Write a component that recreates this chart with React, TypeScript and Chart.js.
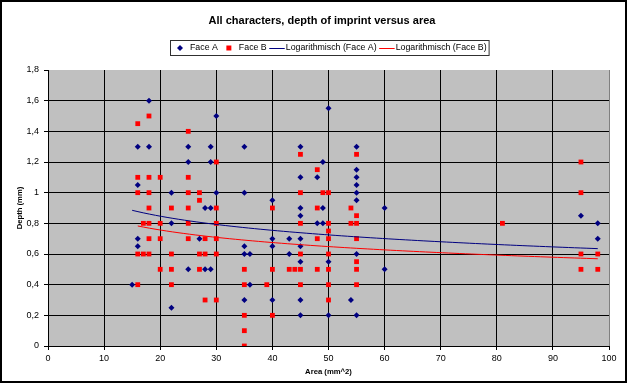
import { useEffect, useRef } from "react";
import { Chart, registerables } from "chart.js";

Chart.register(...registerables);

const TITLE = "All characters, depth of imprint versus area";
const X_TITLE = "Area (mm^2)";
const Y_TITLE = "Depth (mm)";
const LABEL_A = "Face A";
const LABEL_B = "Face B";
const LABEL_TA = "Logarithmisch (Face A)";
const LABEL_TB = "Logarithmisch (Face B)";

const X_MIN = 0;
const X_MAX = 100;
const X_STEP = 10;
const Y_MIN = 0;
const Y_MAX = 1.8;
const Y_STEP = 0.2;

// Face A (blue diamonds)
const faceAArea = [
  18, 16, 18, 25, 25, 16, 22, 22, 16, 27, 16, 25, 15, 22,
  50, 30, 29, 35, 45, 29, 49, 45, 48, 30, 35, 40, 28, 29, 45, 49,
  45, 48, 49, 40, 43, 45, 35, 40, 45, 35, 36, 43, 45, 50, 28, 29, 36, 35, 40, 45, 45, 50,
  55, 55, 55, 55, 55, 55, 60, 55, 60, 54, 55,
  95, 98, 98,
];
const faceADepth = [
  1.6, 1.3, 1.3, 1.3, 1.2, 1.05, 1.0, 0.8, 0.7, 0.7, 0.65, 0.5, 0.4, 0.25,
  1.55, 1.5, 1.3, 1.3, 1.3, 1.2, 1.2, 1.1, 1.1, 1.0, 1.0, 0.95, 0.9, 0.9, 0.9, 0.9,
  0.85, 0.8, 0.8, 0.7, 0.7, 0.7, 0.65, 0.65, 0.65, 0.6, 0.6, 0.6, 0.55, 0.55, 0.5, 0.5, 0.4, 0.3, 0.3, 0.3, 0.2, 0.2,
  1.3, 1.15, 1.1, 1.05, 1.0, 0.95, 0.9, 0.6, 0.5, 0.3, 0.2,
  0.85, 0.8, 0.7,
];

// Face B (red squares)
const faceBArea = [
  18, 16, 25, 16, 18, 20, 25, 16, 18, 25, 27, 27, 18, 22, 25,
  17, 18, 20, 25, 18, 20, 25, 16, 17, 18, 22, 27, 20, 22, 27, 16, 22,
  45, 30, 48, 45, 49, 50, 30, 40, 48,
  30, 45, 50, 50, 28, 30, 48, 50, 28, 30, 45, 50, 35, 40, 43, 44, 45, 48, 50, 35, 39, 45, 50, 28, 30, 50, 35, 40, 35, 35,
  55, 54, 55, 54, 55, 55, 55, 55, 55,
  81, 95, 95, 95, 98, 95, 98,
];
const faceBDepth = [
  1.5, 1.45, 1.4, 1.1, 1.1, 1.1, 1.1, 1.0, 1.0, 1.0, 1.0, 0.95, 0.9, 0.9, 0.9,
  0.8, 0.8, 0.8, 0.8, 0.7, 0.7, 0.7, 0.6, 0.6, 0.6, 0.6, 0.6, 0.5, 0.5, 0.5, 0.4, 0.4,
  1.25, 1.2, 1.15, 1.0, 1.0, 1.0, 0.9, 0.9, 0.9,
  0.8, 0.8, 0.8, 0.75, 0.7, 0.7, 0.7, 0.7, 0.6, 0.6, 0.6, 0.6, 0.5, 0.5, 0.5, 0.5, 0.5, 0.5, 0.5, 0.4, 0.4, 0.4, 0.4, 0.3, 0.3, 0.3, 0.2, 0.2, 0.1, 0,
  1.25, 0.9, 0.85, 0.8, 0.8, 0.7, 0.55, 0.5, 0.4,
  0.8, 1.2, 1.0, 0.6, 0.6, 0.5, 0.5,
];

// Logarithmic trendline coefficients (y = a·ln(x) + b)
const trendACoef = [-0.1332, 1.2457];
const trendBCoef = [-0.118, 1.11];

const COLOR_A = "#000080";
const COLOR_B = "#FF0000";
const FONT = '"Liberation Sans", Arial, sans-serif';

function toPoints(xs: number[], ys: number[]) {
  return xs.map((x, i) => ({ x, y: ys[i] }));
}

// Trendline curve spanning the series' x-range
function logTrend(xs: number[], coef: number[]) {
  const [a, b] = coef;
  const lo = Math.min(...xs);
  const hi = Math.max(...xs);
  const pts: { x: number; y: number }[] = [];
  const steps = 80;
  for (let i = 0; i <= steps; i++) {
    const x = lo + ((hi - lo) * i) / steps;
    pts.push({ x, y: a * Math.log(x) + b });
  }
  return pts;
}

function fmtTick(v: number) {
  return String(Number(v.toFixed(1))).replace(".", ",");
}

const decorPlugin = {
  id: "excelDecor",
  beforeDraw(chart: any) {
    const { ctx, chartArea } = chart;
    ctx.save();
    ctx.fillStyle = "#FFFFFF";
    ctx.fillRect(0, 0, chart.width, chart.height);
    ctx.fillStyle = "#C0C0C0";
    ctx.fillRect(chartArea.left, chartArea.top, chartArea.right - chartArea.left, chartArea.bottom - chartArea.top);
    ctx.restore();
  },
  afterDraw(chart: any) {
    const { ctx } = chart;
    ctx.save();
    // title
    ctx.fillStyle = "#000";
    ctx.font = `bold 11px ${FONT}`;
    ctx.textAlign = "center";
    ctx.textBaseline = "middle";
    ctx.fillText(TITLE, 322, 21);

    // legend
    ctx.font = `8.8px ${FONT}`;
    ctx.textAlign = "left";
    const y = 48;
    const boxLeft = 170.5;
    let cursor = 169;
    const items = chart.data.datasets.map((d: any) => ({
      label: d.label,
      color: d.borderColor,
      kind: d.showLine ? "line" : d.pointStyle,
    }));
    items.forEach((it: any) => {
      let textX: number;
      if (it.kind === "line") {
        ctx.strokeStyle = it.color;
        ctx.lineWidth = 1;
        ctx.beginPath();
        ctx.moveTo(cursor + 2.5, y + 0.5);
        ctx.lineTo(cursor + 18, y + 0.5);
        ctx.stroke();
        textX = cursor + 19;
      } else {
        const cx = cursor + 11;
        ctx.fillStyle = it.color;
        ctx.beginPath();
        if (it.kind === "rectRot") {
          ctx.moveTo(cx, y - 3);
          ctx.lineTo(cx + 3, y);
          ctx.lineTo(cx, y + 3);
          ctx.lineTo(cx - 3, y);
          ctx.closePath();
        } else {
          ctx.rect(cx - 2.5, y - 2.5, 5, 5);
        }
        ctx.fill();
        textX = cx + 10;
      }
      ctx.fillStyle = "#000";
      ctx.fillText(it.label, textX, y);
      cursor = textX + ctx.measureText(it.label).width;
    });
    ctx.strokeStyle = "#303030";
    ctx.lineWidth = 1;
    ctx.strokeRect(boxLeft, 40.5, cursor + 2.5 - boxLeft, 15);

    // outer frame
    ctx.strokeStyle = "#000";
    ctx.lineWidth = 2;
    ctx.strokeRect(1, 1, chart.width - 2, chart.height - 3);
    ctx.restore();
  },
};

export default function App() {
  const ref = useRef<HTMLCanvasElement | null>(null);

  useEffect(() => {
    if (!ref.current) return;
    const chart = new Chart(ref.current, {
      type: "scatter",
      data: {
        datasets: [
          {
            label: LABEL_A,
            data: toPoints(faceAArea, faceADepth),
            pointStyle: "rectRot",
            pointRadius: 3,
            pointBorderWidth: 0,
            backgroundColor: COLOR_A,
            borderColor: COLOR_A,
            showLine: false,
            order: 2,
          },
          {
            label: LABEL_B,
            data: toPoints(faceBArea, faceBDepth),
            pointStyle: "rect",
            pointRadius: 3.4,
            pointBorderWidth: 0,
            backgroundColor: COLOR_B,
            borderColor: COLOR_B,
            showLine: false,
            order: 1,
          },
          {
            label: LABEL_TA,
            data: logTrend(faceAArea, trendACoef),
            showLine: true,
            pointRadius: 0,
            borderWidth: 1,
            borderColor: COLOR_A,
            backgroundColor: COLOR_A,
            order: 0,
          },
          {
            label: LABEL_TB,
            data: logTrend(faceBArea, trendBCoef),
            showLine: true,
            pointRadius: 0,
            borderWidth: 1,
            borderColor: COLOR_B,
            backgroundColor: COLOR_B,
            order: 0,
          },
        ],
      } as any,
      options: {
        animation: false,
        responsive: false,
        devicePixelRatio: 1,
        layout: { padding: { top: 70, left: 3, right: 18, bottom: 3 } },
        plugins: {
          legend: { display: false },
          title: { display: false },
          tooltip: { enabled: false },
        },
        scales: {
          x: {
            type: "linear",
            min: X_MIN,
            max: X_MAX,
            ticks: {
              stepSize: X_STEP,
              color: "#000",
              font: { size: 9, family: FONT },
              padding: 3,
              maxRotation: 0,
            },
            grid: {
              color: (c: any) => (c.tick && c.tick.value === X_MAX ? "#808080" : "#000"),
              tickColor: "#000",
              tickLength: 4,
              lineWidth: 1,
            },
            border: { color: "#000" },
            title: {
              display: true,
              text: X_TITLE,
              color: "#000",
              font: { size: 7.7, weight: "bold", family: FONT },
              padding: { top: 0, bottom: 4.4 },
            },
            afterFit: (s: any) => {
              s.height = 35;
            },
          },
          y: {
            type: "linear",
            min: Y_MIN,
            max: Y_MAX,
            ticks: {
              stepSize: Y_STEP,
              color: "#000",
              font: { size: 9, family: FONT },
              padding: 5,
              callback: (v: any) => fmtTick(Number(v)),
            },
            grid: {
              color: (c: any) =>
                c.tick && Math.abs(c.tick.value - Y_MAX) < 1e-6 ? "rgba(0,0,0,0)" : "#000",
              tickColor: "#000",
              tickLength: 4,
              lineWidth: 1,
            },
            border: { color: "#000" },
            title: {
              display: true,
              text: Y_TITLE,
              color: "#000",
              font: { size: 7.7, weight: "bold", family: FONT },
              padding: { top: 11.9, bottom: 0 },
            },
            afterFit: (s: any) => {
              s.width = 45;
            },
          },
        },
      } as any,
      plugins: [decorPlugin],
    });
    return () => chart.destroy();
  }, []);

  return (
    <div style={{ position: "absolute", left: 0, top: 0, width: 627, height: 384, background: "#fff" }}>
      <canvas ref={ref} width={627} height={384} style={{ display: "block", width: 627, height: 384 }} />
    </div>
  );
}
